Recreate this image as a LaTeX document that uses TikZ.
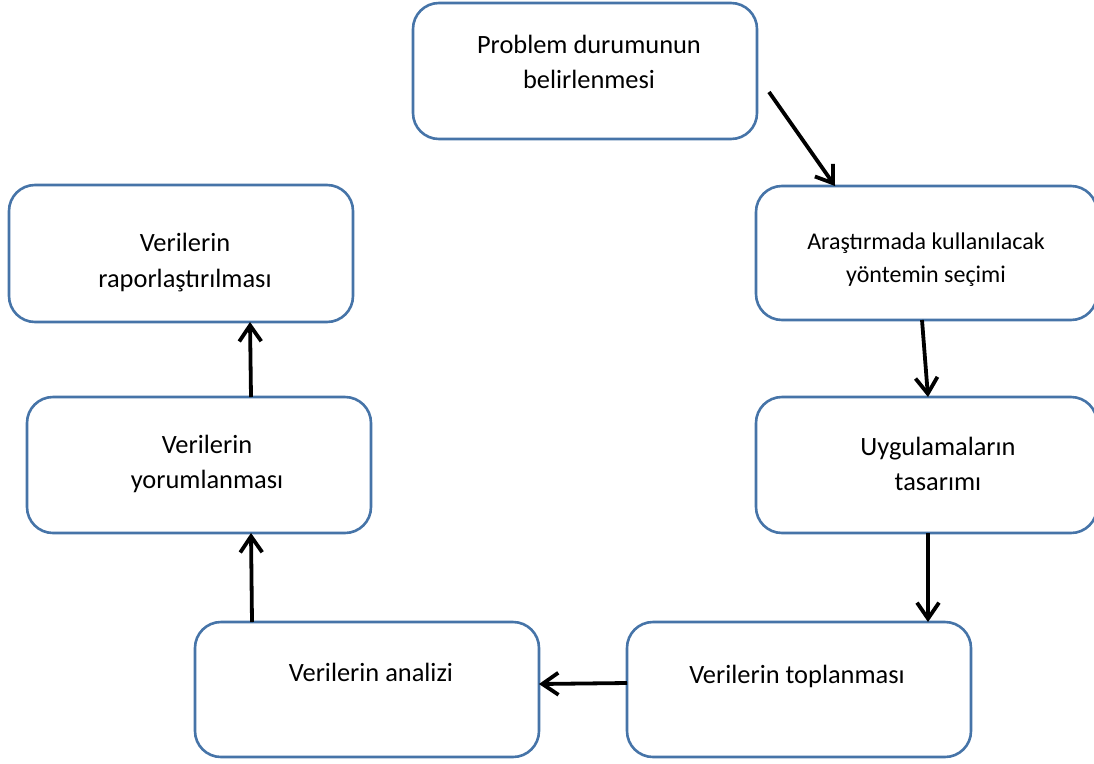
\documentclass[tikz,border=0pt]{standalone}
\usepackage{fontspec}
\setmainfont{Carlito}
\usetikzlibrary{arrows.meta}
\definecolor{boxblue}{HTML}{4674A8}
\tikzset{
  box/.style={draw=boxblue, line width=2.6pt, rounded corners=26pt, rectangle, inner sep=0pt, outer sep=0pt, fill=white},
  lbl/.style={anchor=base, inner sep=0pt, font=\fontsize{26.4}{35}\selectfont},
  lblsmall/.style={anchor=base, inner sep=0pt, font=\fontsize{24}{33}\selectfont},
  arr/.style={line width=3.8pt, -{Straight Barb[length=16pt,width=22pt,line width=3.8pt]}},
}
\begin{document}
\begin{tikzpicture}[x=1pt,y=-1pt]
\useasboundingbox (0,0) rectangle (1094,763);
% boxes
\node[box, minimum width=344pt, minimum height=136pt] (b1) at (585,71) {};
\node[box, minimum width=341pt, minimum height=134pt] (b2) at (926.5,253) {};
\node[box, minimum width=341pt, minimum height=136pt] (b3) at (926.5,465) {};
\node[box, minimum width=344pt, minimum height=135pt] (b4) at (799,689.5) {};
\node[box, minimum width=344pt, minimum height=135pt] (b5) at (367,689.5) {};
\node[box, minimum width=344pt, minimum height=136pt] (b6) at (199,465) {};
\node[box, minimum width=344pt, minimum height=137pt] (b7) at (181,253.5) {};
% texts
\node[lbl] (t1a) at (589,53) {Problem durumunun};
\node[lbl] (t1b) at (589,88) {belirlenmesi};
\node[lblsmall] (t2a) at (926,249) {Araştırmada kullanılacak};
\node[lblsmall] (t2b) at (926,282) {yöntemin seçimi};
\node[lbl] (t3a) at (938,455) {Uygulamaların};
\node[lbl] (t3b) at (938,490) {tasarımı};
\node[lbl] (t4) at (797,683) {Verilerin toplanması};
\node[lbl] (t5) at (371,681) {Verilerin analizi};
\node[lbl] (t6a) at (207,453) {Verilerin};
\node[lbl] (t6b) at (207,488) {yorumlanması};
\node[lbl] (t7a) at (185,251) {Verilerin};
\node[lbl] (t7b) at (185,287) {raporlaştırılması};
% connectors
\draw[arr] ([shift={(12,21)}]b1.east) -- ([shift={(79,0)}]b2.north west);
\draw[arr] ([shift={(166,0)}]b2.south west) -- ([shift={(172,0)}]b3.north west);
\draw[arr] ([shift={(172,0)}]b3.south west) -- ([shift={(301,0)}]b4.north west);
\draw[arr] ([shift={(0,-6.5)}]b4.west) -- ([shift={(0,-5.5)}]b5.east);
\draw[arr] ([shift={(57,0)}]b5.north west) -- ([shift={(224,0)}]b6.south west);
\draw[arr] ([shift={(224,0)}]b6.north west) -- ([shift={(241,0)}]b7.south west);
\end{tikzpicture}
\end{document}
